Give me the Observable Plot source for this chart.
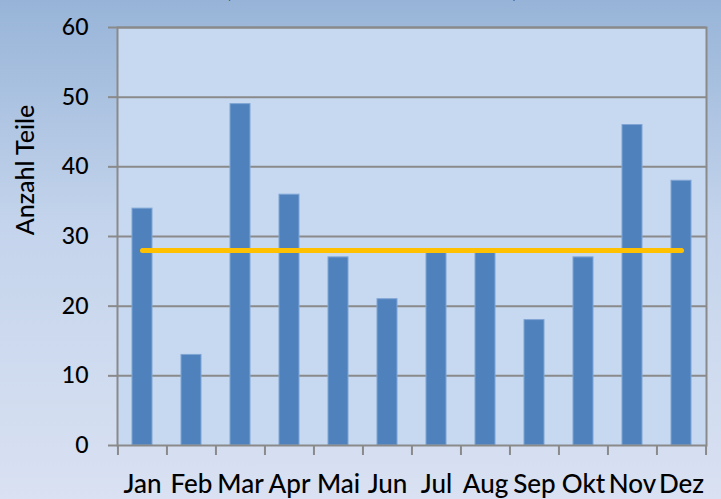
<!DOCTYPE html>
<html>
<head>
<meta charset="utf-8">
<script src="https://cdn.jsdelivr.net/npm/d3@7"></script>
<script src="https://cdn.jsdelivr.net/npm/@observablehq/plot@0.6"></script>
<style>
  html, body { margin: 0; padding: 0; }
  body { width: 721px; height: 499px; overflow: hidden; }
  #wrap {
    position: relative; width: 721px; height: 499px; overflow: hidden;
    background: linear-gradient(to bottom, #97b4d8 0%, #c4d4ec 45%, #d9e1f2 100%);
    font-family: Lato, "Open Sans", sans-serif;
  }
  #title { position: absolute; top: -24px; left: 0; width: 721px; height: 30px; font-size: 24px; line-height: 24px; color: #000; font-weight: 500; }
  #title span { position: absolute; }
  #chart svg { display: block; background: transparent; }
  #chart svg text { font-weight: 500; }
</style>
</head>
<body>
<div id="wrap">
  <div id="title"><span style="left:225px">(</span><span style="left:512px">)</span></div>
  <div id="chart"></div>
</div>
<script>
const months = ["Jan","Feb","Mar","Apr","Mai","Jun","Jul","Aug","Sep","Okt","Nov","Dez"];
const counts = [34, 13, 49, 36, 27, 21, 28, 28, 18, 27, 46, 38];
const median = [28, 28, 28, 28, 28, 28, 28, 28, 28, 28, 28, 28];
const yTicks = [0, 10, 20, 30, 40, 50, 60];
const yLabel = "Anzahl Teile";

const data = months.map((m, i) => ({month: m, count: counts[i], median: median[i]}));

const W = 721, H = 499, mL = 117, mR = 15, mT = 27, mB = 54;
const step = (W - mL - mR) / months.length;
const grey = "#8a8a8a";

const chart = Plot.plot({
  width: W, height: H,
  marginLeft: mL, marginRight: mR, marginTop: mT, marginBottom: mB,
  style: {fontFamily: "Lato, 'Open Sans', sans-serif", fontSize: "24px", color: "#000", background: "transparent", overflow: "visible"},
  x: {type: "band", domain: months, paddingInner: 0.6, paddingOuter: 0.3, axis: null},
  y: {domain: [0, 60], axis: null},
  marks: [
    Plot.frame({fill: "#c6d9f1"}),
    Plot.gridY({ticks: yTicks.filter(t => t > 0), stroke: grey, strokeOpacity: 1, strokeWidth: 2}),
    Plot.barY(data, {x: "month", y: "count", fill: "#4f81bd", stroke: "#7fa5d4", strokeWidth: 1}),
    Plot.lineY(data, {x: "month", y: "median", stroke: "#ffc000", strokeWidth: 5, strokeLinecap: "round"}),
    Plot.frame({stroke: grey, strokeWidth: 2}),
    Plot.axisY({ticks: yTicks, tickSize: 9, tickPadding: 20, stroke: grey, strokeWidth: 2, fill: "#000", fontSize: 23, label: null, tickFormat: d => String(d)}),
    Plot.axisX({tickSize: 10, text: null, stroke: grey, strokeWidth: 2, dx: -step / 2, label: null}),
    Plot.axisX({ticks: [months[months.length - 1]], tickSize: 10, text: null, stroke: grey, strokeWidth: 2, dx: step / 2, label: null}),
    Plot.axisX({tickSize: 0, tickPadding: 29, fill: "#000", fontSize: 26, label: null})
  ]
});

const svg = d3.select(chart);
svg.append("text")
  .attr("transform", "translate(34,170) rotate(-90)")
  .attr("text-anchor", "middle")
  .attr("font-size", 25)
  .attr("fill", "#000")
  .text(yLabel);

document.getElementById("chart").appendChild(chart);
</script>
</body>
</html>
